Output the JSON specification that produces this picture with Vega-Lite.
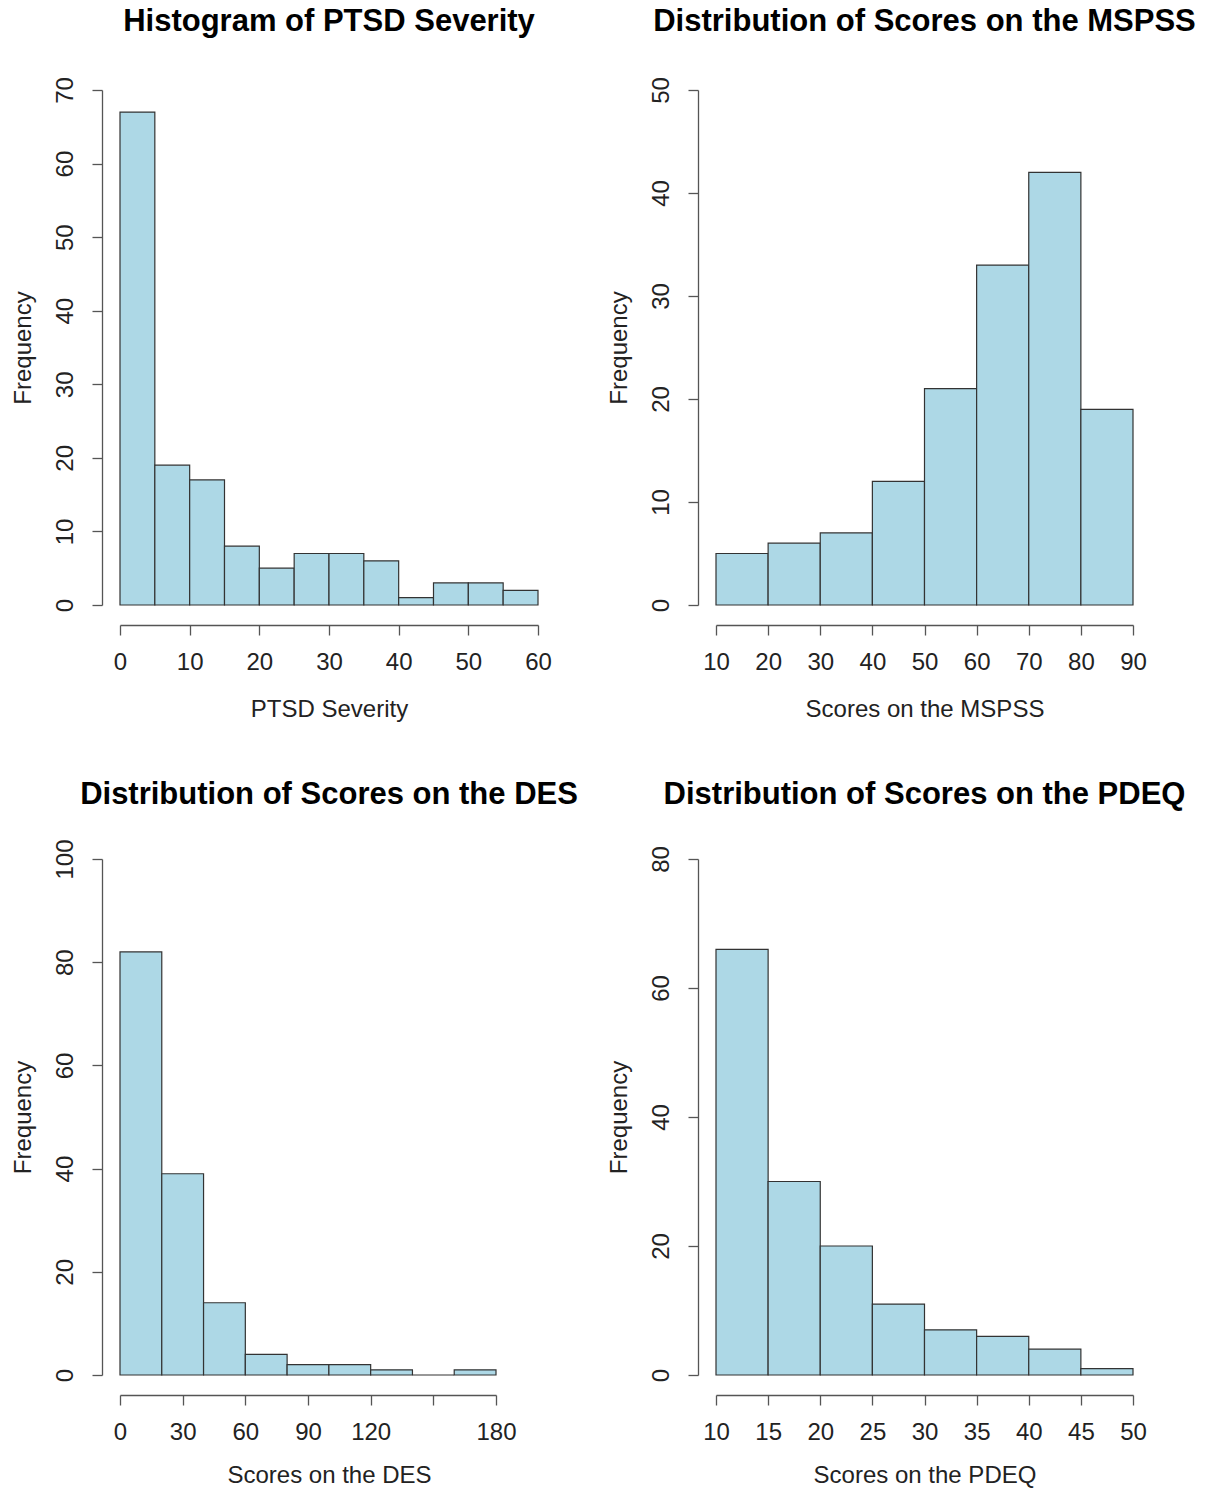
{
  "$schema": "https://vega.github.io/schema/vega-lite/v6.json",
  "autosize": {"type": "none"},
  "padding": {"left": 120, "top": 90, "right": 1092, "bottom": 1399},
  "background": "white",
  "datasets": {
    "ptsd": [
      {"start": 0, "end": 5, "count": 67},
      {"start": 5, "end": 10, "count": 19},
      {"start": 10, "end": 15, "count": 17},
      {"start": 15, "end": 20, "count": 8},
      {"start": 20, "end": 25, "count": 5},
      {"start": 25, "end": 30, "count": 7},
      {"start": 30, "end": 35, "count": 7},
      {"start": 35, "end": 40, "count": 6},
      {"start": 40, "end": 45, "count": 1},
      {"start": 45, "end": 50, "count": 3},
      {"start": 50, "end": 55, "count": 3},
      {"start": 55, "end": 60, "count": 2}
    ],
    "mspss": [
      {"start": 10, "end": 20, "count": 5},
      {"start": 20, "end": 30, "count": 6},
      {"start": 30, "end": 40, "count": 7},
      {"start": 40, "end": 50, "count": 12},
      {"start": 50, "end": 60, "count": 21},
      {"start": 60, "end": 70, "count": 33},
      {"start": 70, "end": 80, "count": 42},
      {"start": 80, "end": 90, "count": 19}
    ],
    "des": [
      {"start": 0, "end": 20, "count": 82},
      {"start": 20, "end": 40, "count": 39},
      {"start": 40, "end": 60, "count": 14},
      {"start": 60, "end": 80, "count": 4},
      {"start": 80, "end": 100, "count": 2},
      {"start": 100, "end": 120, "count": 2},
      {"start": 120, "end": 140, "count": 1},
      {"start": 140, "end": 160, "count": 0},
      {"start": 160, "end": 180, "count": 1}
    ],
    "pdeq": [
      {"start": 10, "end": 15, "count": 66},
      {"start": 15, "end": 20, "count": 30},
      {"start": 20, "end": 25, "count": 20},
      {"start": 25, "end": 30, "count": 11},
      {"start": 30, "end": 35, "count": 7},
      {"start": 35, "end": 40, "count": 6},
      {"start": 40, "end": 45, "count": 4},
      {"start": 45, "end": 50, "count": 1}
    ]
  },
  "columns": 2,
  "spacing": {"column": 178, "row": 254},
  "bounds": "flush",
  "concat": [
    {
      "title": {"text": "Histogram of PTSD Severity", "offset": 38.5},
      "width": 418,
      "height": 515,
      "data": {"name": "ptsd"},
      "mark": {"type": "rect", "fill": "#ADD8E6", "stroke": "#333333", "strokeWidth": 1.2},
      "encoding": {
        "x": {"field": "start", "type": "quantitative", "scale": {"domain": [0, 60], "nice": false, "zero": false},
              "axis": {"title": "PTSD Severity", "values": [0, 10, 20, 30, 40, 50, 60]}},
        "x2": {"field": "end"},
        "y": {"field": "count", "type": "quantitative", "scale": {"domain": [0, 70], "nice": false},
              "axis": {"title": "Frequency", "values": [0, 10, 20, 30, 40, 50, 60, 70]}},
        "y2": {"datum": 0}
      }
    },
    {
      "title": {"text": "Distribution of Scores on the MSPSS", "offset": 38.5},
      "width": 417,
      "height": 515,
      "data": {"name": "mspss"},
      "mark": {"type": "rect", "fill": "#ADD8E6", "stroke": "#333333", "strokeWidth": 1.2},
      "encoding": {
        "x": {"field": "start", "type": "quantitative", "scale": {"domain": [10, 90], "nice": false, "zero": false},
              "axis": {"title": "Scores on the MSPSS", "values": [10, 20, 30, 40, 50, 60, 70, 80, 90]}},
        "x2": {"field": "end"},
        "y": {"field": "count", "type": "quantitative", "scale": {"domain": [0, 50], "nice": false},
              "axis": {"title": "Frequency", "values": [0, 10, 20, 30, 40, 50]}},
        "y2": {"datum": 0}
      }
    },
    {
      "title": {"text": "Distribution of Scores on the DES", "offset": 28.2, "dx": 21},
      "width": 376,
      "height": 516,
      "data": {"name": "des"},
      "mark": {"type": "rect", "fill": "#ADD8E6", "stroke": "#333333", "strokeWidth": 1.2},
      "encoding": {
        "x": {"field": "start", "type": "quantitative", "scale": {"domain": [0, 180], "nice": false, "zero": false},
              "axis": {"title": "Scores on the DES", "titleX": 209, "titleY": 68, "values": [0, 30, 60, 90, 120, 150, 180],
                       "labelExpr": "datum.value == 150 ? '' : datum.label"}},
        "x2": {"field": "end"},
        "y": {"field": "count", "type": "quantitative", "scale": {"domain": [0, 100], "nice": false},
              "axis": {"title": "Frequency", "values": [0, 20, 40, 60, 80, 100]}},
        "y2": {"datum": 0}
      }
    },
    {
      "title": {"text": "Distribution of Scores on the PDEQ", "offset": 34.9},
      "width": 417,
      "height": 516,
      "data": {"name": "pdeq"},
      "mark": {"type": "rect", "fill": "#ADD8E6", "stroke": "#333333", "strokeWidth": 1.2},
      "encoding": {
        "x": {"field": "start", "type": "quantitative", "scale": {"domain": [10, 50], "nice": false, "zero": false},
              "axis": {"title": "Scores on the PDEQ", "titleY": 68, "values": [10, 15, 20, 25, 30, 35, 40, 45, 50]}},
        "x2": {"field": "end"},
        "y": {"field": "count", "type": "quantitative", "scale": {"domain": [0, 80], "nice": false},
              "axis": {"title": "Frequency", "values": [0, 20, 40, 60, 80]}},
        "y2": {"datum": 0}
      }
    }
  ],
  "config": {
    "view": {"stroke": null},
    "font": "Liberation Sans",
    "axis": {
      "grid": false,
      "domainColor": "#555555",
      "domainWidth": 1.3,
      "tickColor": "#555555",
      "tickWidth": 1.3,
      "tickSize": 10,
      "labelFont": "Liberation Sans",
      "labelFontSize": 24,
      "labelColor": "#222222",
      "titleFont": "Liberation Sans",
      "titleFontSize": 24,
      "titleFontWeight": "normal",
      "titleColor": "#222222",
      "labelOverlap": false,
      "labelFlush": false
    },
    "axisX": {"offset": 20, "labelPadding": 15, "titleY": 72},
    "axisY": {"offset": 18, "labelAngle": 270, "labelAlign": "center", "labelBaseline": "bottom", "labelPadding": 15, "titleX": -67},
    "title": {"font": "Liberation Sans", "fontSize": 31, "fontWeight": "bold", "color": "#000000", "frame": "group", "anchor": "middle"}
  }
}
